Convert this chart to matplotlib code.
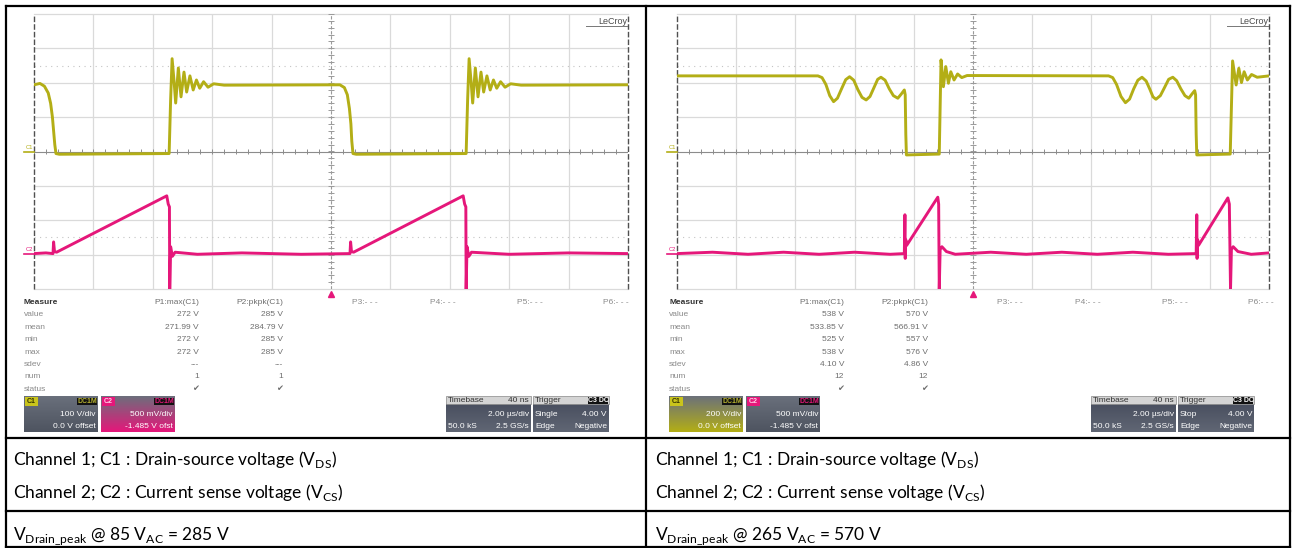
import numpy as np
import matplotlib
matplotlib.use("Agg")
import matplotlib.pyplot as plt
import matplotlib.colors as mcolors
from matplotlib.lines import Line2D
from matplotlib.patches import Rectangle

# ---- scope settings ----
TIME_DIV = 2.0          # µs/div, 10 div on screen
L_C1_VDIV = 100         # V/div (85 VAC shot)
R_C1_VDIV = 200         # V/div (265 VAC shot)
C2_VDIV = 0.5           # V/div
C2_OFFSET = -1.485      # V

# ---- traces: (time µs, volts) ----
L_C1 = [(0.00, 194), (0.20, 198), (0.35, 190), (0.48, 170), (0.56, 140), (0.62, 100),
        (0.66, 60), (0.70, 20), (0.74, -6), (0.85, -8), (4.55, -6), (4.60, 150),
        (4.65, 270), (4.72, 200), (4.77, 141), (4.86, 243), (4.95, 159), (5.05, 231),
        (5.14, 173), (5.25, 220), (5.36, 179), (5.47, 208), (5.58, 184), (5.71, 203),
        (5.86, 187), (6.05, 197), (6.40, 193), (10.30, 194), (10.45, 186), (10.55, 165),
        (10.62, 125), (10.67, 80), (10.70, 30), (10.74, -6), (10.85, -8), (14.55, -6),
        (14.60, 150), (14.65, 270), (14.72, 200), (14.77, 141), (14.86, 243), (14.95, 159),
        (15.05, 231), (15.14, 173), (15.25, 220), (15.36, 179), (15.47, 208), (15.58, 184),
        (15.71, 203), (15.86, 187), (16.05, 197), (16.40, 193), (20.00, 194)]

L_C2 = [(0.00, 0.00), (0.40, 0.01), (0.64, 0.00), (0.66, 0.17), (0.69, 0.03), (0.76, 0.02),
        (4.47, 0.84), (4.52, 0.72), (4.56, 0.68), (4.57, -0.52), (4.60, 0.10), (4.66, -0.04),
        (4.75, 0.02), (5.50, -0.01), (7.00, 0.01), (9.00, -0.01), (10.64, 0.00), (10.66, 0.17),
        (10.69, 0.03), (10.76, 0.02), (14.45, 0.84), (14.50, 0.72), (14.54, 0.68),
        (14.55, -0.52), (14.58, 0.10), (14.64, -0.04), (14.73, 0.02), (16.00, -0.01),
        (18.00, 0.01), (20.00, 0.00)]

R_C1 = [(0.00, 440), (4.76, 440), (4.90, 430), (5.03, 390), (5.16, 325), (5.29, 290),
        (5.42, 310), (5.56, 365), (5.70, 418), (5.83, 435), (5.97, 415), (6.11, 360),
        (6.25, 315), (6.39, 300), (6.52, 320), (6.65, 370), (6.78, 420), (6.89, 432),
        (7.03, 415), (7.17, 365), (7.31, 325), (7.46, 310), (7.58, 335), (7.68, 358),
        (7.71, 330), (7.73, 100), (7.75, -20), (8.86, -15), (8.92, 533), (9.00, 377),
        (9.08, 494), (9.17, 397), (9.25, 464), (9.36, 416), (9.48, 451), (9.62, 430),
        (9.80, 442), (14.58, 440), (14.72, 430), (14.85, 390), (15.00, 320), (15.15, 284),
        (15.29, 305), (15.43, 365), (15.57, 415), (15.71, 432), (15.85, 410), (15.98, 360),
        (16.08, 318), (16.18, 304), (16.33, 325), (16.47, 372), (16.61, 420), (16.75, 432),
        (16.88, 412), (17.02, 365), (17.16, 325), (17.29, 310), (17.40, 335), (17.49, 354),
        (17.52, 330), (17.54, 100), (17.56, -20), (18.69, -15), (18.77, 527), (18.89, 387),
        (18.98, 484), (19.07, 401), (19.16, 464), (19.27, 416), (19.41, 448), (19.60, 432),
        (20.00, 440)]

R_C2 = [(0.00, 0.00), (1.20, 0.02), (2.40, -0.01), (3.60, 0.02), (4.80, -0.01), (6.00, 0.02),
        (7.20, -0.01), (7.68, 0.00), (7.70, 0.565), (7.71, -0.07), (7.73, 0.20), (7.76, 0.12),
        (8.81, 0.82), (8.84, 0.72), (8.86, -0.52), (8.89, 0.06), (8.95, 0.10), (9.10, 0.03),
        (9.40, -0.01), (10.60, 0.02), (11.80, -0.01), (13.00, 0.02), (14.20, -0.01),
        (15.40, 0.02), (16.60, -0.01), (17.54, 0.00), (17.56, 0.565), (17.57, -0.07),
        (17.59, 0.20), (17.62, 0.12), (18.61, 0.81), (18.66, 0.72), (18.70, -0.52),
        (18.73, 0.06), (18.79, 0.10), (18.95, 0.03), (19.40, -0.01), (20.00, 0.01)]

# ---- measurement table ----
MEAS_ROWS = ["value", "mean", "min", "max", "sdev", "num", "status"]
L_P1 = ["272 V", "271.99 V", "272 V", "272 V", "---", "1", "\u2714"]
L_P2 = ["285 V", "284.79 V", "285 V", "285 V", "---", "1", "\u2714"]
R_P1 = ["538 V", "533.85 V", "525 V", "538 V", "4.10 V", "12", "\u2714"]
R_P2 = ["570 V", "566.91 V", "557 V", "576 V", "4.86 V", "12", "\u2714"]
P_EMPTY = ["P3:- - -", "P4:- - -", "P5:- - -", "P6:- - -"]

L_C1_BOX = ["100 V/div", "0.0 V offset"]
R_C1_BOX = ["200 V/div", "0.0 V offset"]
C2_BOX = ["500 mV/div", "-1.485 V ofst"]
TIMEBASE = ["Timebase", "40 ns", "2.00 \u00b5s/div", "50.0 kS", "2.5 GS/s"]
L_TRIGGER = ["Trigger", "C3 DC", "Single", "4.00 V", "Edge", "Negative"]
R_TRIGGER = ["Trigger", "C3 DC", "Stop", "4.00 V", "Edge", "Negative"]

CAPTION_1 = "Channel 1; C1 : Drain-source voltage (V$_\\mathregular{DS}$)"
CAPTION_2 = "Channel 2; C2 : Current sense voltage (V$_\\mathregular{CS}$)"
L_PEAK = "V$_\\mathregular{Drain\\_peak}$ @ 85 V$_\\mathregular{AC}$ = 285 V"
R_PEAK = "V$_\\mathregular{Drain\\_peak}$ @ 265 V$_\\mathregular{AC}$ = 570 V"

YEL = "#b3ae16"
PINK = "#e5177a"
GRID = "#dadada"
SMALL = ["Liberation Sans", "DejaVu Sans"]

W, H = 1292, 548
fig = plt.figure(figsize=(W / 100, H / 100), dpi=100)


def line(x0, y0, x1, y1, **kw):
    fig.add_artist(Line2D([x0 / W, x1 / W], [1 - y0 / H, 1 - y1 / H],
                          transform=fig.transFigure, **kw))


def text(x, y, s, **kw):
    kw.setdefault("va", "center")
    fig.text(x / W, 1 - y / H, s, **kw)


def stext(x, y, s, **kw):
    kw.setdefault("fontsize", 6.0)
    kw.setdefault("color", "#6e6e6e")
    text(x, y, s, family=SMALL, **kw)


def rect(x0, y0, x1, y1, **kw):
    fig.add_artist(Rectangle((x0 / W, 1 - y1 / H), (x1 - x0) / W, (y1 - y0) / H,
                             transform=fig.transFigure, **kw))


def gradient_box(x0, y0, x1, y1, c_top, c_bot):
    ax = fig.add_axes([x0 / W, 1 - y1 / H, (x1 - x0) / W, (y1 - y0) / H])
    ax.set_axis_off()
    ct = np.array(mcolors.to_rgb(c_top))
    cb = np.array(mcolors.to_rgb(c_bot))
    f = np.linspace(0, 1, 40)[:, None, None]
    ax.imshow(ct + (cb - ct) * f, aspect="auto", extent=[0, 1, 0, 1])


def tag(x0, y0, x1, y1, fc, s, tc):
    rect(x0, y0, x1, y1, facecolor=fc, edgecolor="none")
    text((x0 + x1) / 2, (y0 + y1) / 2, s, ha="center", family=SMALL, fontsize=5.0,
         color=tc, fontweight="bold")


def scope(gx0, gx1, ox, c1, c1_vdiv, c2, sel, p1, p2, c1_box, trig):
    gy0, gy1 = 14, 289
    box = [gx0 / W, 1 - gy1 / H, (gx1 - gx0) / W, (gy1 - gy0) / H]

    ax = fig.add_axes(box)
    ax.set_xlim(0, 10 * TIME_DIV)
    ax.set_ylim(-4 * c1_vdiv, 4 * c1_vdiv)
    ax.set_xticks([])
    ax.set_yticks([])
    for s in ax.spines.values():
        s.set_visible(False)
    for i in range(1, 10):
        if i != 5:
            ax.axvline(i * TIME_DIV, color=GRID, lw=0.9)
    for j in (-4, -3, -2, -1, 1, 2, 3, 4):
        ax.axhline(j * c1_vdiv, color=GRID, lw=0.9, clip_on=False)
    for j in (-2.5, 2.5):
        ax.axhline(j * c1_vdiv, color="#c4c4c4", lw=0.8, ls=(0, (1, 4)))
    ax.axhline(0, color="#8c8c8c", lw=0.8)
    ax.axvline(5 * TIME_DIV, color="#9a9a9a", lw=0.8, ls=(0, (3, 1.5)))
    ax.vlines(np.arange(0, 20.01, 0.4), -0.07 * c1_vdiv, 0.07 * c1_vdiv,
              color="#8c8c8c", lw=0.7)
    ax.hlines(np.arange(-4, 4.01, 0.2) * c1_vdiv, 9.9, 10.1, color="#9a9a9a", lw=0.7)
    for xe in (0, 10 * TIME_DIV):
        ax.axvline(xe, color="#505050", lw=1.0, ls=(0, (4, 1.5)), clip_on=False)

    ct, cv = zip(*c1)
    ax.plot(ct, cv, color=YEL, lw=2.1, solid_joinstyle="round")

    ax2 = fig.add_axes(box)
    ax2.set_xlim(0, 10 * TIME_DIV)
    ax2.set_ylim(-4 * C2_VDIV - C2_OFFSET, 4 * C2_VDIV - C2_OFFSET)
    ax2.set_axis_off()
    ax2.patch.set_alpha(0)
    pt, pv = zip(*c2)
    ax2.plot(pt, pv, color=PINK, lw=2.1, solid_joinstyle="round")
    ax2.plot([5 * TIME_DIV], [-4 * C2_VDIV - C2_OFFSET - 0.07], marker="^", ms=4.5,
             color=PINK, clip_on=False)

    # channel ground markers on the left edge
    ymid = (gy0 + gy1) / 2
    line(gx0 - 10, ymid, gx0, ymid, color=YEL, lw=1.2)
    stext(gx0 - 8, ymid - 4, "C1", fontsize=4.2, color=YEL)
    y2 = ymid - (C2_OFFSET / C2_VDIV) * (gy1 - gy0) / 8
    line(gx0 - 10, y2, gx0, y2, color=PINK, lw=1.2)
    stext(gx0 - 8, y2 - 4, "C2", fontsize=4.2, color=PINK)

    stext(gx1 - 1, 21, "LeCroy", ha="right", fontsize=6.5, color="#4a4a4a")
    line(gx1 - 42, 26, gx1 - 1, 26, color="#777777", lw=0.7)

    # measurement table
    stext(ox + 24, 303, "Measure", color="#333333", fontweight="bold")
    stext(ox + 199, 303, "P1:max(C1)", ha="right")
    stext(ox + 283, 303, "P2:pkpk(C1)", ha="right")
    for k, name in enumerate(MEAS_ROWS):
        y = 315 + k * 12.4
        stext(ox + 24, y, name, color="#8a8a8a")
        stext(ox + 199, y, p1[k], ha="right")
        stext(ox + 283, y, p2[k], ha="right")
    for k, s in enumerate(P_EMPTY):
        stext(ox + [352, 430, 517, 603][k], 303, s, color="#8a8a8a")

    # channel descriptor boxes
    gradient_box(ox + 24, 396, ox + 98, 432, "#6a707c", YEL if sel == 1 else "#4e5460")
    tag(ox + 25, 397, ox + 38, 406, "#c9c41c", "C1", "#333300")
    tag(ox + 77, 398, ox + 97, 405, "#111111", "DC1M", "#b8b430")
    stext(ox + 96, 415, c1_box[0], ha="right", color="white")
    stext(ox + 96, 426, c1_box[1], ha="right", color="white")
    gradient_box(ox + 101, 396, ox + 175, 432, "#6a707c", PINK if sel == 2 else "#4e5460")
    tag(ox + 102, 397, ox + 115, 406, PINK, "C2", "#ffd0e8")
    tag(ox + 154, 398, ox + 174, 405, "#111111", "DC1M", PINK)
    stext(ox + 173, 415, C2_BOX[0], ha="right", color="white")
    stext(ox + 173, 426, C2_BOX[1], ha="right", color="white")

    # timebase / trigger boxes
    tx = ox + 446
    rect(tx, 396, tx + 85, 404, facecolor="#d4d4d4", edgecolor="#888888", lw=0.5)
    gradient_box(tx, 404, tx + 85, 432, "#4a5060", "#606674")
    stext(tx + 2, 400, TIMEBASE[0], color="#333333")
    stext(tx + 83, 400, TIMEBASE[1], ha="right", color="#333333")
    stext(tx + 83, 415, TIMEBASE[2], ha="right", color="white")
    stext(tx + 2, 426, TIMEBASE[3], color="white")
    stext(tx + 83, 426, TIMEBASE[4], ha="right", color="white")
    rx = tx + 87
    rect(rx, 396, rx + 76, 404, facecolor="#d4d4d4", edgecolor="#888888", lw=0.5)
    gradient_box(rx, 404, rx + 76, 432, "#4a5060", "#606674")
    stext(rx + 2, 400, trig[0], color="#333333")
    tag(rx + 55, 397, rx + 75, 404, "#111111", trig[1], "white")
    stext(rx + 2, 415, trig[2], color="white")
    stext(rx + 74, 415, trig[3], ha="right", color="white")
    stext(rx + 2, 426, trig[4], color="white")
    stext(rx + 74, 426, trig[5], ha="right", color="white")


scope(34, 628, 0, L_C1, L_C1_VDIV, L_C2, 2, L_P1, L_P2, L_C1_BOX, L_TRIGGER)
scope(677, 1269, 645, R_C1, R_C1_VDIV, R_C2, 1, R_P1, R_P2, R_C1_BOX, R_TRIGGER)

# table frame
BK = dict(color="black", lw=1.6, solid_capstyle="projecting")
line(6, 6, 1290, 6, **BK)
line(6, 547, 1290, 547, **BK)
line(6, 6, 6, 547, **BK)
line(1290, 6, 1290, 547, **BK)
line(646, 6, 646, 547, **BK)
line(6, 438, 1290, 438, **BK)
line(6, 511, 1290, 511, **BK)

BIG = dict(family=["Lato", "DejaVu Sans"], fontsize=12.5, color="black", va="baseline")
for x0 in (13, 655):
    text(x0, 465, CAPTION_1, **BIG)
    text(x0, 498, CAPTION_2, **BIG)
text(13, 540, L_PEAK, **BIG)
text(655, 540, R_PEAK, **BIG)

fig.savefig("out.png", dpi=100)
